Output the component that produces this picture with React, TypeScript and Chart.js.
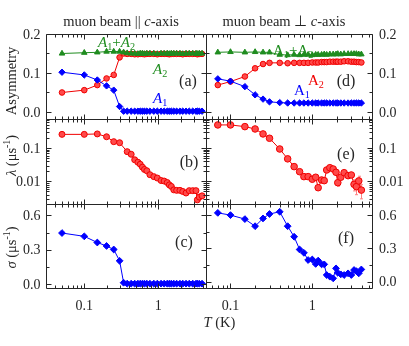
import React, { useEffect, useRef } from 'react';
import { Chart, registerables } from 'chart.js';
Chart.register(...registerables);

// ---------------- data ----------------
// muon beam || c-axis (left column)
const T_PAR = [0.05, 0.1, 0.15, 0.2, 0.25, 0.3, 0.34, 0.38, 0.43, 0.48, 0.53, 0.57, 0.61, 0.65, 0.7, 0.77, 0.87, 0.97, 1.09, 1.2, 1.32, 1.41, 1.5, 1.62, 1.77, 1.96, 2.14, 2.37, 2.62, 2.92, 3.23, 3.37, 3.58, 3.9];
const SUM_PAR = [0.150, 0.152, 0.153, 0.155, 0.155, 0.155, 0.153, 0.151, 0.150, 0.150, 0.149, 0.150, 0.150, 0.149, 0.150, 0.150, 0.150, 0.149, 0.150, 0.150, 0.150, 0.149, 0.150, 0.150, 0.150, 0.150, 0.149, 0.150, 0.150, 0.150, 0.150, 0.149, 0.150, 0.150];
const A1_PAR = [0.102, 0.095, 0.082, 0.067, 0.056, 0.014, 0.002, 0.002, 0.002, 0.002, 0.002, 0.002, 0.002, 0.002, 0.002, 0.002, 0.002, 0.002, 0.002, 0.002, 0.002, 0.002, 0.002, 0.002, 0.002, 0.002, 0.002, 0.002, 0.002, 0.002, 0.002, 0.002, 0.002, 0.002];
const A2_PAR = [0.050, 0.056, 0.069, 0.086, 0.095, 0.140, 0.150, 0.149, 0.149, 0.148, 0.148, 0.149, 0.149, 0.148, 0.149, 0.149, 0.149, 0.148, 0.149, 0.149, 0.149, 0.148, 0.149, 0.149, 0.149, 0.149, 0.148, 0.149, 0.149, 0.149, 0.149, 0.148, 0.149, 0.149];
const LAMBDA_PAR = [0.262, 0.262, 0.27, 0.222, 0.158, 0.147, null, 0.079, 0.066, 0.045, 0.038, 0.033, 0.027, 0.023, 0.021, 0.016, 0.014, 0.0127, 0.0107, 0.0103, 0.0093, 0.0079, 0.0071, 0.0056, 0.0054, 0.0054, 0.005, 0.0045, 0.0053, 0.0053, 0.0053, 0.0028, 0.0034, 0.0037];
const SIGMA_PAR = [0.446, 0.417, 0.363, 0.333, 0.302, 0.203, 0.011, 0.003, 0.003, 0.003, 0.003, 0.003, 0.003, 0.003, 0.003, 0.003, 0.003, 0.003, 0.003, 0.003, 0.003, 0.003, 0.003, 0.003, 0.003, 0.003, 0.003, 0.003, 0.003, 0.003, 0.003, 0.003, 0.003, 0.003];

// muon beam ⊥ c-axis (right column)
const T_PERP = [0.07, 0.1, 0.15, 0.2, 0.25, 0.3, 0.4, 0.5, 0.6, 0.7, 0.79, 0.89, 1.0, 1.1, 1.18, 1.3, 1.4, 1.5, 1.64, 1.8, 1.95, 2.05, 2.23, 2.45, 2.74, 3.0, 3.24, 3.46, 3.7, 3.98];
const SUM_PERP = [0.153, 0.154, 0.153, 0.154, 0.153, 0.153, 0.147, 0.146, 0.147, 0.146, 0.147, 0.147, 0.146, 0.147, 0.147, 0.147, 0.148, 0.147, 0.148, 0.148, 0.148, 0.149, 0.148, 0.149, 0.149, 0.149, 0.149, 0.149, 0.148, 0.148];
const A1_PERP = [0.085, 0.079, 0.065, 0.044, 0.033, 0.026, 0.024, 0.023, 0.023, 0.023, 0.023, 0.023, 0.023, 0.023, 0.023, 0.023, 0.023, 0.023, 0.023, 0.023, 0.023, 0.023, 0.023, 0.023, 0.023, 0.023, 0.023, 0.023, 0.023, 0.023];
const A2_PERP = [0.069, 0.078, 0.091, 0.112, 0.123, 0.126, 0.126, 0.125, 0.126, 0.126, 0.126, 0.126, 0.127, 0.127, 0.127, 0.128, 0.128, 0.128, 0.129, 0.129, 0.129, 0.129, 0.129, 0.130, 0.130, 0.129, 0.129, 0.128, 0.128, 0.127];
const LAMBDA_PERP = [0.504, 0.504, 0.448, 0.381, 0.27, 0.20, 0.095, 0.048, 0.028, 0.0197, 0.014, 0.014, 0.0117, 0.0134, 0.0065, 0.0111, 0.0106, 0.0222, 0.026, 0.0238, 0.0189, 0.0092, 0.0134, 0.0184, 0.015, 0.0157, 0.0082, 0.007, 0.0104, 0.0055];
const LAMBDA_PERP_ERR = [0, 0, 0, 0, 0, 0, 0, 0, 0, 0, 0, 0, 0, 0, 0.001, 0, 0, 0, 0, 0, 0, 0.002, 0.001, 0.001, 0.001, 0.001, 0.003, 0.003, 0.004, 0.0025];
const SIGMA_PERP = [0.62, 0.60, 0.564, 0.50, 0.57, 0.61, 0.63, 0.50, 0.405, 0.29, 0.26, 0.195, 0.20, 0.16, 0.19, 0.156, 0.156, 0.06, 0.045, 0.03, 0.12, 0.08, 0.066, 0.06, 0.075, 0.06, 0.105, 0.095, 0.075, 0.11];

// tick labels
const X_TICKS = [0.1, 1];
const X_TICK_LABELS = ['0.1', '1'];
const ASYM_TICKS = [0, 0.1, 0.2];
const ASYM_MINOR = [0.05, 0.15];
const ASYM_TICK_LABELS = ['0.0', '0.1', '0.2'];
const LAMBDA_TICKS = [0.01, 0.1];
const LAMBDA_TICK_LABELS = ['0.01', '0.1'];
const SIGMA_TICKS = [0, 0.3, 0.6];
const SIGMA_MINOR = [0.15, 0.45];
const SIGMA_TICK_LABELS = ['0.0', '0.3', '0.6'];

// ---------------- styles ----------------
const W = 409;
const H = 346;
const FONT = '"Liberation Serif", "Times New Roman", serif';
const INK = '#262626';
const GREEN = '#1f8c1f';
const BLUE = '#0000ff';
const RED = '#f00000';
const RED_FILL = '#ff4a4a';
const MAJ = 5;
const MIN = 3;

type Part = { t: string; it?: boolean; sub?: boolean; sup?: boolean };
type Note = { parts: Part[]; x: number; y: number; color: string; size: number };
type Series = { ys: (number | null)[]; color: string; fill: string; style: string; radius: number; err?: number[] };
type Panel = {
  col: 'left' | 'right';
  row: number;
  xs: number[];
  yType: 'linear' | 'logarithmic';
  yMin: number;
  yMax: number;
  yTicks: number[];
  yMinor: number[] | null;
  yLabels: string[];
  series: Series[];
  tag: string;
  tagX: number;
  tagY: number;
  notes: Note[];
  global?: boolean;
};

const COLS = {
  left: { x0: 46, x1: 206, xMin: 0.0304, xMax: 4.41 },
  right: { x0: 206, x1: 372, xMin: 0.0502, xMax: 5.37 },
};
const ROWS = [
  { y0: 34, y1: 119 },
  { y0: 119, y1: 204 },
  { y0: 204, y1: 288 },
];

function fontOf(p: Part, size: number) {
  const s = p.sub || p.sup ? size * 0.68 : size;
  return `${p.it ? 'italic ' : ''}${s}px ${FONT}`;
}

function drawRich(ctx: CanvasRenderingContext2D, parts: Part[], x: number, y: number, size: number, color: string, align: 'left' | 'center' | 'right' = 'left') {
  let w = 0;
  for (const p of parts) {
    ctx.font = fontOf(p, size);
    w += ctx.measureText(p.t).width;
  }
  let cx = align === 'center' ? x - w / 2 : align === 'right' ? x - w : x;
  ctx.fillStyle = color;
  ctx.textAlign = 'left';
  ctx.textBaseline = 'alphabetic';
  for (const p of parts) {
    ctx.font = fontOf(p, size);
    const dy = p.sub ? size * 0.22 : p.sup ? -size * 0.38 : 0;
    ctx.fillText(p.t, cx, y + dy);
    cx += ctx.measureText(p.t).width;
  }
}

function logTicks(min: number, max: number) {
  const out: { v: number; major: boolean }[] = [];
  for (let e = Math.floor(Math.log10(min)); e <= Math.ceil(Math.log10(max)); e++) {
    for (let k = 1; k <= 9; k++) {
      const v = k * Math.pow(10, e);
      if (v >= min && v <= max) out.push({ v, major: k === 1 });
    }
  }
  return out;
}

const PANELS: Panel[] = [
  {
    col: 'left', row: 0, xs: T_PAR, yType: 'linear', yMin: -0.018, yMax: 0.2,
    yTicks: ASYM_TICKS, yMinor: ASYM_MINOR, yLabels: ASYM_TICK_LABELS,
    series: [
      { ys: SUM_PAR, color: GREEN, fill: GREEN, style: 'triangle', radius: 3.2 },
      { ys: A1_PAR, color: BLUE, fill: BLUE, style: 'rectRot', radius: 3.2 },
      { ys: A2_PAR, color: RED, fill: RED_FILL, style: 'circle', radius: 2.8 },
    ],
    tag: '(a)', tagX: 188, tagY: 86,
    notes: [
      { parts: [{ t: 'A', it: true }, { t: '1', sub: true }, { t: '+' }, { t: 'A', it: true }, { t: '2', sub: true }], x: 98, y: 47, color: GREEN, size: 15 },
      { parts: [{ t: 'A', it: true }, { t: '2', sub: true }], x: 153, y: 74, color: GREEN, size: 15 },
      { parts: [{ t: 'A', it: true }, { t: '1', sub: true }], x: 153, y: 103, color: BLUE, size: 15 },
    ],
    global: true,
  },
  {
    col: 'left', row: 1, xs: T_PAR, yType: 'logarithmic', yMin: 0.0021, yMax: 0.76,
    yTicks: LAMBDA_TICKS, yMinor: null, yLabels: LAMBDA_TICK_LABELS,
    series: [{ ys: LAMBDA_PAR, color: RED, fill: RED_FILL, style: 'circle', radius: 3 }],
    tag: '(b)', tagX: 189, tagY: 166.5, notes: [],
  },
  {
    col: 'left', row: 2, xs: T_PAR, yType: 'linear', yMin: -0.035, yMax: 0.7,
    yTicks: SIGMA_TICKS, yMinor: SIGMA_MINOR, yLabels: SIGMA_TICK_LABELS,
    series: [{ ys: SIGMA_PAR, color: BLUE, fill: BLUE, style: 'rectRot', radius: 3.4 }],
    tag: '(c)', tagX: 184, tagY: 246.5, notes: [],
  },
  {
    col: 'right', row: 0, xs: T_PERP, yType: 'linear', yMin: -0.018, yMax: 0.2,
    yTicks: ASYM_TICKS, yMinor: ASYM_MINOR, yLabels: ASYM_TICK_LABELS,
    series: [
      { ys: SUM_PERP, color: GREEN, fill: GREEN, style: 'triangle', radius: 3.2 },
      { ys: A1_PERP, color: BLUE, fill: BLUE, style: 'rectRot', radius: 3.2 },
      { ys: A2_PERP, color: RED, fill: RED_FILL, style: 'circle', radius: 2.8 },
    ],
    tag: '(d)', tagX: 346, tagY: 86,
    notes: [
      { parts: [{ t: 'A' }, { t: '1', sub: true }, { t: '+' }, { t: 'A' }, { t: '2', sub: true }], x: 273, y: 55, color: GREEN, size: 15 },
      { parts: [{ t: 'A' }, { t: '2', sub: true }], x: 308, y: 85, color: RED, size: 15 },
      { parts: [{ t: 'A' }, { t: '1', sub: true }], x: 294, y: 95, color: BLUE, size: 15 },
    ],
  },
  {
    col: 'right', row: 1, xs: T_PERP, yType: 'logarithmic', yMin: 0.0021, yMax: 0.76,
    yTicks: LAMBDA_TICKS, yMinor: null, yLabels: LAMBDA_TICK_LABELS,
    series: [{ ys: LAMBDA_PERP, color: RED, fill: RED_FILL, style: 'circle', radius: 3.3, err: LAMBDA_PERP_ERR }],
    tag: '(e)', tagX: 346, tagY: 158.5, notes: [],
  },
  {
    col: 'right', row: 2, xs: T_PERP, yType: 'linear', yMin: -0.057, yMax: 0.7,
    yTicks: SIGMA_TICKS, yMinor: SIGMA_MINOR, yLabels: SIGMA_TICK_LABELS,
    series: [{ ys: SIGMA_PERP, color: BLUE, fill: BLUE, style: 'rectRot', radius: 3.4 }],
    tag: '(f)', tagX: 346, tagY: 243, notes: [],
  },
];

function drawGlobal(ctx: CanvasRenderingContext2D) {
  drawRich(ctx, [{ t: 'muon beam || ' }, { t: 'c', it: true }, { t: '-axis' }], 121, 26, 14.5, INK, 'center');
  drawRich(ctx, [{ t: 'muon beam \u22A5 ' }, { t: 'c', it: true }, { t: '-axis' }], 284, 26, 14.5, INK, 'center');
  drawRich(ctx, [{ t: 'T', it: true }, { t: ' (K)' }], 219.5, 327, 14.5, INK, 'center');
  const vt = (parts: Part[], cy: number) => {
    ctx.save();
    ctx.translate(15.5, cy);
    ctx.rotate(-Math.PI / 2);
    drawRich(ctx, parts, 0, 0, 14.5, INK, 'center');
    ctx.restore();
  };
  vt([{ t: 'Asymmetry' }], 81);
  vt([{ t: '\u03BB', it: true }, { t: ' (\u03BCs' }, { t: '-1', sup: true }, { t: ')' }], 155.5);
  vt([{ t: '\u03C3', it: true }, { t: ' (\u03BCs' }, { t: '-1', sup: true }, { t: ')' }], 247.5);
}

function makePlugin(p: Panel) {
  const colCfg = COLS[p.col];
  return {
    id: 'panel' + p.tag.replace(/[()]/g, ''),
    beforeDatasetsDraw(chart: any) {
      const ctx: CanvasRenderingContext2D = chart.ctx;
      const xs = chart.scales.x;
      const ys = chart.scales.y;
      ctx.save();
      for (const s of p.series) {
        if (!s.err) continue;
        ctx.strokeStyle = '#ff8080';
        ctx.lineWidth = 1;
        ctx.beginPath();
        s.err.forEach((e, i) => {
          const v = s.ys[i];
          if (!e || v === null) return;
          const px = Math.round(xs.getPixelForValue(p.xs[i])) + 0.5;
          const y1 = ys.getPixelForValue(v + e);
          const y2 = ys.getPixelForValue(Math.max(v - e, p.yMin * 1.01));
          ctx.moveTo(px, y1);
          ctx.lineTo(px, y2);
          ctx.moveTo(px - 1.5, y1);
          ctx.lineTo(px + 1.5, y1);
          ctx.moveTo(px - 1.5, y2);
          ctx.lineTo(px + 1.5, y2);
        });
        ctx.stroke();
      }
      ctx.restore();
    },
    afterDraw(chart: any) {
      const ctx: CanvasRenderingContext2D = chart.ctx;
      const { left, right, top, bottom } = chart.chartArea;
      const xs = chart.scales.x;
      const ys = chart.scales.y;
      ctx.save();
      ctx.strokeStyle = INK;
      ctx.lineWidth = 1;
      ctx.beginPath();
      ctx.rect(left + 0.5, top + 0.5, right - left, bottom - top);
      for (const t of logTicks(colCfg.xMin, colCfg.xMax)) {
        const px = Math.round(xs.getPixelForValue(t.v)) + 0.5;
        const len = t.major ? MAJ : MIN;
        ctx.moveTo(px, bottom + 0.5);
        ctx.lineTo(px, bottom + 0.5 - len);
        ctx.moveTo(px, top + 0.5);
        ctx.lineTo(px, top + 0.5 + len);
      }
      const yt: { v: number; major: boolean }[] =
        p.yType === 'logarithmic'
          ? logTicks(p.yMin, p.yMax)
          : [...p.yTicks.map((v) => ({ v, major: true })), ...(p.yMinor || []).map((v) => ({ v, major: false }))];
      for (const t of yt) {
        const py = Math.round(ys.getPixelForValue(t.v)) + 0.5;
        const len = t.major ? MAJ : MIN;
        ctx.moveTo(left + 0.5, py);
        ctx.lineTo(left + 0.5 + len, py);
        ctx.moveTo(right + 0.5, py);
        ctx.lineTo(right + 0.5 - len, py);
      }
      ctx.stroke();

      p.yTicks.forEach((v, i) => {
        const py = ys.getPixelForValue(v);
        if (p.col === 'left') drawRich(ctx, [{ t: p.yLabels[i] }], left - 5.5, py + 4.7, 14, INK, 'right');
        else drawRich(ctx, [{ t: p.yLabels[i] }], right + 7, py + 4.7, 14, INK, 'left');
      });
      if (p.row === 2) {
        X_TICKS.forEach((v, i) => {
          const px = xs.getPixelForValue(v);
          drawRich(ctx, [{ t: X_TICK_LABELS[i] }], px, bottom + 21.5, 14, INK, 'center');
        });
      }
      drawRich(ctx, [{ t: p.tag }], p.tagX, p.tagY, 16, INK, 'center');
      for (const n of p.notes) drawRich(ctx, n.parts, n.x, n.y, n.size, n.color, 'left');
      if (p.global) drawGlobal(ctx);
      ctx.restore();
    },
  };
}

function makeConfig(p: Panel): any {
  const c = COLS[p.col];
  const r = ROWS[p.row];
  return {
    type: 'scatter',
    data: {
      datasets: p.series.map((s) => ({
        data: p.xs.map((x, i) => ({ x, y: s.ys[i] })).filter((d) => d.y !== null),
        showLine: true,
        borderColor: s.color,
        backgroundColor: s.fill,
        borderWidth: 1,
        pointStyle: s.style,
        pointRadius: s.radius,
        pointBackgroundColor: s.fill,
        pointBorderColor: s.color,
        pointBorderWidth: 1,
        tension: 0,
        clip: false,
      })),
    },
    options: {
      responsive: false,
      animation: false,
      events: [],
      layout: { padding: { left: c.x0, top: r.y0, right: W - c.x1, bottom: H - r.y1 } },
      plugins: { legend: { display: false }, tooltip: { enabled: false } },
      scales: {
        x: { type: 'logarithmic', min: c.xMin, max: c.xMax, display: false },
        y: { type: p.yType, min: p.yMin, max: p.yMax, display: false },
      },
    },
    plugins: [makePlugin(p)],
  };
}

export default function App() {
  const refs = useRef<(HTMLCanvasElement | null)[]>([]);
  useEffect(() => {
    const charts = PANELS.map((p, i) => new Chart(refs.current[i] as HTMLCanvasElement, makeConfig(p)));
    return () => charts.forEach((ch) => ch.destroy());
  }, []);
  return (
    <div style={{ position: 'fixed', left: 0, top: 0, width: W, height: H, background: '#fff', overflow: 'hidden' }}>
      {PANELS.map((p, i) => (
        <canvas
          key={i}
          ref={(el) => {
            refs.current[i] = el;
          }}
          width={W}
          height={H}
          style={{ position: 'absolute', left: 0, top: 0, width: W, height: H }}
        />
      ))}
    </div>
  );
}
